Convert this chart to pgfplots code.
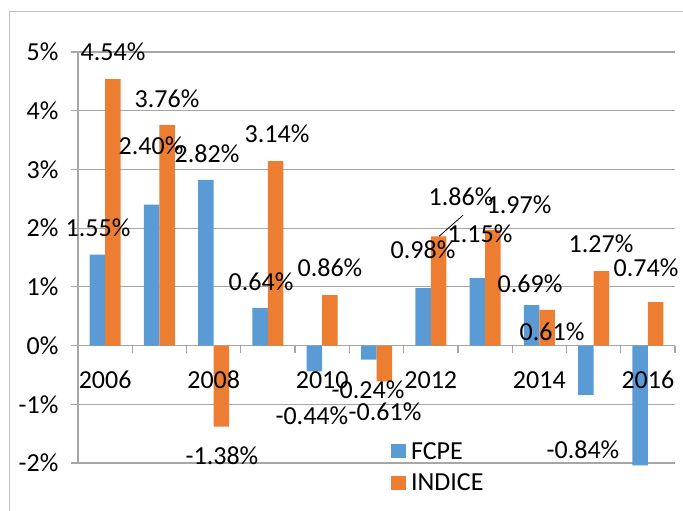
\documentclass[border=0pt]{standalone}
\usepackage{pgfplots}
\pgfplotsset{compat=1.18}
\usepackage{fontspec}
\setmainfont{Carlito}
\definecolor{fcpe}{HTML}{5B9BD5}
\definecolor{indice}{HTML}{ED7D31}
\definecolor{gridc}{HTML}{A6A6A6}
\definecolor{framec}{HTML}{BFBFBF}
\newcommand{\bigf}{\fontsize{26}{30}\selectfont}
\begin{document}
\begin{tikzpicture}
\useasboundingbox (-78pt,-48pt) rectangle (605pt,463pt);
\draw[framec, line width=1pt] (-68pt,-100pt) -- (-68pt,451pt) -- (700pt,451pt);
\begin{axis}[
  at={(0pt,0pt)}, anchor=south west,
  scale only axis, width=597pt, height=411pt,
  xmin=-0.5, xmax=10.5, ymin=-2, ymax=5,
  ybar=0pt, bar width=15.5pt,
  axis y line=left, axis x line=middle,
  hide obscured x ticks=false, hide obscured y ticks=false,
  axis line style={-, draw=gridc, line width=1.2pt},
  ytick={-2,...,5},
  yticklabels={-2\%,-1\%,0\%,1\%,2\%,3\%,4\%,5\%},
  ymajorgrids, grid style={draw=gridc, line width=1.2pt},
  xtick={-0.5,0.5,...,10.5}, xticklabels={},
  tick align=outside, major tick length=7pt,
  tick style={draw=gridc, line width=1.2pt},
  tick label style={font=\bigf},
  yticklabel style={xshift=-9pt},
  clip=false,
  legend style={draw=none, fill=none, at={(0.524,0.056)}, anchor=north west,
    font=\bigf, row sep=9pt, inner sep=0pt,
    /tikz/every odd column/.style={column sep=3pt}},
  legend cell align=left,
  legend image code/.code={\fill[#1] (0pt,-7pt) rectangle (15pt,7pt);},
]
\addplot[fill=fcpe, draw=none] coordinates {
 (0,1.55) (1,2.40) (2,2.82) (3,0.64) (4,-0.44) (5,-0.24)
 (6,0.98) (7,1.15) (8,0.69) (9,-0.84) (10,-2.04)};
\addplot[fill=indice, draw=none] coordinates {
 (0,4.54) (1,3.76) (2,-1.38) (3,3.14) (4,0.86) (5,-0.61)
 (6,1.86) (7,1.97) (8,0.61) (9,1.27) (10,0.74)};
\legend{FCPE, INDICE}
\begin{scope}[every node/.style={font=\bigf, inner sep=0pt}]
\node at (axis cs:0,-0.59) {2006};
\node at (axis cs:2,-0.59) {2008};
\node at (axis cs:4,-0.59) {2010};
\node at (axis cs:6,-0.59) {2012};
\node at (axis cs:8,-0.59) {2014};
\node at (axis cs:10,-0.59) {2016};
\node at (axis cs:-0.13,2.00) {1.55\%};
\node at (axis cs:0.145,5.01) {4.54\%};
\node at (axis cs:0.845,3.41) {2.40\%};
\node at (axis cs:1.14,4.21) {3.76\%};
\node at (axis cs:1.877,3.27) {2.82\%};
\node at (axis cs:2.153,-1.87) {-1.38\%};
\node at (axis cs:2.872,1.09) {0.64\%};
\node at (axis cs:3.167,3.61) {3.14\%};
\node at (axis cs:3.81,-1.20) {-0.44\%};
\node at (axis cs:4.143,1.32) {0.86\%};
\node at (axis cs:4.844,-0.76) {-0.24\%};
\node at (axis cs:5.157,-1.12) {-0.61\%};
\node at (axis cs:5.857,1.64) {0.98\%};
\node at (axis cs:6.557,2.54) {1.86\%};
\node at (axis cs:6.907,1.91) {1.15\%};
\node at (axis cs:7.626,2.40) {1.97\%};
\node at (axis cs:7.829,1.06) {0.69\%};
\node at (axis cs:8.234,0.23) {0.61\%};
\node at (axis cs:8.805,-1.78) {-0.84\%};
\node at (axis cs:9.137,1.74) {1.27\%};
\node at (axis cs:9.966,1.32) {0.74\%};
\end{scope}
\draw[black, line width=0.8pt] (axis cs:6.594,2.22) -- (axis cs:6.152,1.86);
\end{axis}
\end{tikzpicture}
\end{document}
